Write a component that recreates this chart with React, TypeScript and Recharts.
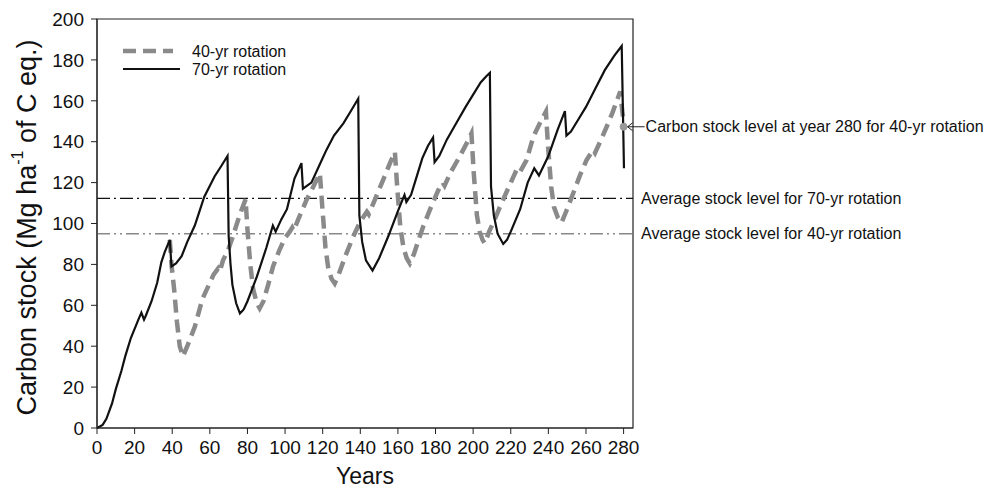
import {
  LineChart,
  Line,
  XAxis,
  YAxis,
  ReferenceLine,
  ReferenceDot,
  ReferenceArea,
  Legend,
} from "recharts"

// years (both rotations share the first 39 years)
const rot70Years = [
  0, 3, 5, 8, 10, 13, 15, 18, 20, 22, 23.6, 25, 26, 29, 32, 34.2, 36, 38.7, 39.6, 42, 45, 48, 52, 57, 62.5, 66, 69.4,
  70, 71, 72, 74, 76, 78, 80, 85, 90, 93.5, 95, 98, 101, 105, 108.7, 109.5, 114, 118, 122, 126, 131, 135, 138.9,
  139.5, 141, 143, 146.5, 150, 155, 160, 163.5, 164.5, 167, 169, 173, 176, 178.7, 179.5, 182, 186, 191, 196, 200, 204, 207, 208.9,
  209.5, 211, 213, 216, 218, 220, 225, 229, 232.5, 235, 240, 245, 248.8, 249.6, 252, 256, 260, 265, 270, 275, 279, 280.2,
]
const rot70Carbon = [
  0, 1.5, 4.5, 12, 19, 28, 35, 44, 48.5, 53, 56.4, 53, 55, 62, 71, 81, 86, 92, 79, 80.5, 84, 91, 99, 113, 123, 128, 133,
  94, 80, 70, 61, 56, 58, 62, 74, 88, 99, 96, 102, 107, 122, 129.5, 117, 120, 128, 136, 143, 149, 155, 161,
  104, 91, 82, 77, 83, 94, 106, 114, 110.5, 114, 120, 132, 138, 142, 130, 133, 141, 149, 157, 163, 169, 172, 173.7,
  118, 104, 95, 90, 92, 96, 107, 120, 127, 123.5, 133, 146, 155, 143, 145, 151, 157, 166, 175, 182, 186.8, 127,
]

const rot40Years = [
  38.7, 39.6, 41, 42.5, 44, 45.7, 48, 52, 56, 59, 62, 64.4, 65.3, 67, 69.7, 72, 75, 77, 79,
  80, 81.5, 83, 85, 86.5, 88.5, 91, 93.6, 97, 100, 102.5, 103.8, 104.6, 107, 111.4, 115, 118.5,
  119.8, 121.5, 123, 124.7, 126.4, 128.5, 132, 136.2, 140, 143.5, 144.5, 147, 152, 156, 158.4,
  159.6, 161.3, 163, 164.7, 166.3, 168.5, 171, 173.4, 178, 182.3, 183.8, 184.8, 188, 193, 197, 199.1,
  200.3, 202, 203.5, 205, 206.2, 208.5, 211, 214.2, 219, 223, 224.2, 225.1, 228.4, 232, 236, 238.7,
  239.8, 241.5, 243, 245, 247, 249.5, 253.2, 257, 260.3, 263.8, 264.8, 268, 271, 274, 276, 278.2, 279.3, 280.3,
]
const rot40Carbon = [
  92, 80, 68, 52, 40, 35, 40, 49.5, 63, 69, 75, 78, 76.5, 82, 87, 93, 101.7, 107, 111.8,
  97, 80, 68, 61, 58.5, 62, 70, 79, 87, 93, 96, 98, 96.5, 102, 111.5, 118, 124.5,
  108, 88, 78, 73, 70.7, 75, 84, 93.5, 101, 105.8, 104.5, 110, 121, 130, 135,
  118, 98, 88, 83, 80.5, 85, 92, 98.4, 109, 118, 120, 118.5, 125, 133, 140, 144,
  125, 104, 96, 92, 90.3, 96, 101, 108, 118, 126, 127, 125.5, 131, 142.5, 150, 154.7,
  138, 118, 108, 103, 100.4, 106, 114.8, 124, 131, 136, 134.5, 141, 147.3, 154, 159, 164.5, 155, 147.3,
]

const avg70 = 112.3
const avg40 = 95
const final40Year = 280
const final40Carbon = 147.3

const yearTicks = [0, 20, 40, 60, 80, 100, 120, 140, 160, 180, 200, 220, 240, 260, 280]
const carbonTicks = [0, 20, 40, 60, 80, 100, 120, 140, 160, 180, 200]

const rot70 = rot70Years.map((year, i) => ({ year, carbon: rot70Carbon[i] }))
const rot40 = rot40Years.map((year, i) => ({ year, carbon: rot40Carbon[i] }))

const font = '"Liberation Sans", Arial, sans-serif'

function YLabel({ viewBox }: any) {
  const cx = viewBox.x - 10
  const cy = viewBox.y + viewBox.height / 2 + 4
  return (
    <text
      x={cx}
      y={cy}
      transform={`rotate(-90 ${cx} ${cy})`}
      textAnchor="middle"
      dominantBaseline="central"
      fontFamily={font}
      fontSize={27}
      fill="#111"
    >
      Carbon stock (Mg ha
      <tspan dy={-10} fontSize={16}>-1</tspan>
      <tspan dy={10}> of C eq.)</tspan>
    </text>
  )
}

function DotLabel({ viewBox }: any) {
  const cx = viewBox.x + (viewBox.width || 0) / 2
  const cy = viewBox.y + (viewBox.height || 0) / 2
  return (
    <g>
      <line x1={cx + 4} y1={cy} x2={cx + 21} y2={cy} stroke="#222" strokeWidth={1} />
      <path d={`M${cx + 9} ${cy - 4} L${cx + 4} ${cy} L${cx + 9} ${cy + 4}`} fill="none" stroke="#222" strokeWidth={1} />
      <text x={cx + 22} y={cy} dominantBaseline="central" fontFamily={font} fontSize={16} fill="#111">
        Carbon stock level at year 280 for 40-yr rotation
      </text>
    </g>
  )
}

function LegendBox({ payload }: any) {
  return (
    <svg width={220} height={40}>
      {(payload || []).map((entry: any, i: number) => (
        <g key={entry.value}>
          <line
            x1={0}
            y1={9 + i * 18}
            x2={i === 0 ? 50 : 57}
            y2={9 + i * 18}
            stroke={entry.color}
            strokeWidth={entry.payload?.strokeWidth}
            strokeDasharray={entry.payload?.strokeDasharray}
          />
          <text x={69} y={9 + i * 18} dominantBaseline="central" fontFamily={font} fontSize={16} fill="#111">
            {entry.value}
          </text>
        </g>
      ))}
    </svg>
  )
}

export default function App() {
  return (
    <div style={{ position: "absolute", left: 0, top: 0, width: 1000, height: 488, background: "#fff" }}>
      <LineChart width={1000} height={488} margin={{ top: 19, right: 367, bottom: 30, left: 37 }}>
        <XAxis
          type="number"
          dataKey="year"
          domain={[0, 285]}
          ticks={yearTicks}
          interval={0}
          allowDataOverflow
          height={30}
          tickSize={6}
          tickMargin={7}
          stroke="#222"
          tick={{ fontSize: 19, fill: "#111", fontFamily: font }}
          label={{ value: "Years", position: "bottom", offset: 10, fontSize: 23, fill: "#111", fontFamily: font }}
        />
        <YAxis
          type="number"
          domain={[0, 200]}
          ticks={carbonTicks}
          interval={0}
          width={60}
          tickSize={6}
          tickMargin={7}
          stroke="#222"
          tick={{ fontSize: 19, fill: "#111", fontFamily: font }}
          label={<YLabel />}
        />
        <ReferenceArea x1={0} x2={285} y1={0} y2={200} fill="none" stroke="#222" strokeWidth={1.2} />
        <ReferenceLine
          y={avg70}
          stroke="#111"
          strokeWidth={1.3}
          strokeDasharray="13 4 2 4"
          label={{ value: "Average stock level for 70-yr rotation", position: "right", offset: 8, fontSize: 16, fill: "#111", fontFamily: font }}
        />
        <ReferenceLine
          y={avg40}
          stroke="#888"
          strokeWidth={1.5}
          strokeDasharray="13 4 2 4 2 4"
          label={{ value: "Average stock level for 40-yr rotation", position: "right", offset: 8, fontSize: 16, fill: "#111", fontFamily: font }}
        />
        <Line
          data={rot40}
          dataKey="carbon"
          name="40-yr rotation"
          type="linear"
          stroke="#8a8a8a"
          strokeWidth={4.5}
          strokeDasharray="13 7"
          dot={false}
          activeDot={false}
          isAnimationActive={false}
        />
        <Line
          data={rot70}
          dataKey="carbon"
          name="70-yr rotation"
          type="linear"
          stroke="#111"
          strokeWidth={2.2}
          dot={false}
          activeDot={false}
          isAnimationActive={false}
        />
        <ReferenceDot
          x={final40Year}
          y={final40Carbon}
          r={3.5}
          fill="#999"
          stroke="#999"
          label={<DotLabel />}
        />
        <Legend
          layout="vertical"
          verticalAlign="middle"
          align="center"
          content={<LegendBox />}
          wrapperStyle={{ position: "absolute", left: 123, top: 42, width: 220 }}
        />
      </LineChart>
    </div>
  )
}
